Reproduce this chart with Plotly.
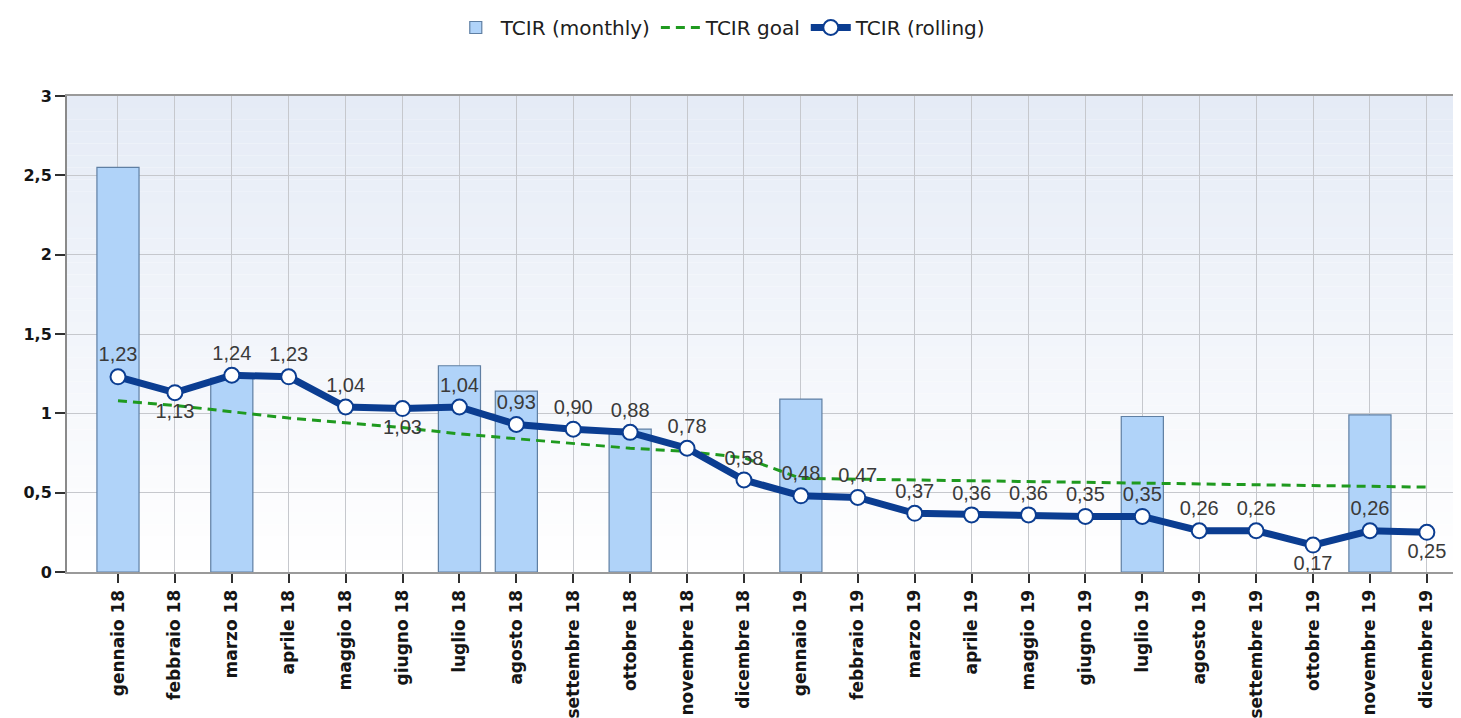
import plotly.graph_objects as go

months = ["gennaio 18", "febbraio 18", "marzo 18", "aprile 18", "maggio 18", "giugno 18",
          "luglio 18", "agosto 18", "settembre 18", "ottobre 18", "novembre 18", "dicembre 18",
          "gennaio 19", "febbraio 19", "marzo 19", "aprile 19", "maggio 19", "giugno 19",
          "luglio 19", "agosto 19", "settembre 19", "ottobre 19", "novembre 19", "dicembre 19"]

tcir_monthly = [2.55, None, 1.22, None, None, None, 1.30, 1.14, None, 0.90, None, None,
                1.09, None, None, None, None, None, 0.98, None, None, None, 0.99, None]

tcir_goal = [1.08, 1.05, 1.01, 0.97, 0.94, 0.91, 0.87, 0.84, 0.81, 0.78, 0.76, 0.72,
             0.59, 0.585, 0.58, 0.575, 0.57, 0.565, 0.56, 0.555, 0.55, 0.545, 0.54, 0.535]

tcir_rolling = [1.23, 1.13, 1.24, 1.23, 1.04, 1.03, 1.04, 0.93, 0.90, 0.88, 0.78, 0.58,
                0.48, 0.47, 0.37, 0.36, 0.36, 0.35, 0.35, 0.26, 0.26, 0.17, 0.26, 0.25]

label_pos = ["top center", "bottom center", "top center", "top center", "top center", "bottom center",
             "top center", "top center", "top center", "top center", "top center", "top center",
             "top center", "top center", "top center", "top center", "top center", "top center",
             "top center", "top center", "top center", "bottom center", "top center", "bottom center"]

y_ticks = [0, 0.5, 1, 1.5, 2, 2.5, 3]

fig = go.Figure()

fig.add_trace(go.Bar(
    x=months, y=tcir_monthly, name="TCIR (monthly)", width=0.74,
    marker=dict(color="#b0d3f9", line=dict(color="#5f7fa3", width=1.2)),
))

fig.add_trace(go.Scatter(
    x=months, y=tcir_goal, name="TCIR goal", mode="lines",
    line=dict(color="#1f9a1f", width=3, dash="9px,6px"),
))

fig.add_trace(go.Scatter(
    x=months, y=tcir_rolling, name="TCIR (rolling)", mode="lines+markers+text",
    line=dict(color="#0b3d91", width=7),
    marker=dict(symbol="circle", size=15, color="white", line=dict(color="#0b3d91", width=2)),
    texttemplate="%{y:.2f}", textposition=label_pos,
    textfont=dict(family="Liberation Sans, Arial, sans-serif", size=20, color="#3a3a3a"),
))

# vertical background gradient (light blue at top fading to white)
n = 40
top = (229, 235, 246)
bot = (255, 255, 255)
shapes = []
for i in range(n):
    t = i / (n - 1)
    c = tuple(round(top[k] + (bot[k] - top[k]) * t) for k in range(3))
    shapes.append(dict(type="rect", xref="x domain", yref="y domain",
                       x0=0, x1=1, y0=1 - (i + 1) / n, y1=1 - i / n,
                       fillcolor="rgb(%d,%d,%d)" % c, line=dict(width=0), layer="below"))

fig.update_layout(
    width=1453, height=710,
    margin=dict(l=59, r=0, t=88, b=146),
    paper_bgcolor="white", plot_bgcolor="rgba(0,0,0,0)",
    separators=",.",
    shapes=shapes,
    showlegend=True,
    legend=dict(orientation="h", x=0.469, xanchor="center", y=1.145, yanchor="middle",
                font=dict(family="DejaVu Sans, Verdana, sans-serif", size=20, color="#202020"),
                bgcolor="rgba(0,0,0,0)", itemwidth=40, traceorder="normal"),
    font=dict(family="DejaVu Sans, sans-serif", color="#202020"),
    bargap=0.2,
)

fig.update_xaxes(
    type="category", range=[-0.896, 23.6], tickangle=-90,
    tickfont=dict(family="DejaVu Sans, sans-serif", size=17, color="#151515", weight="bold"),
    showgrid=True, gridcolor="#c6c8cd", gridwidth=1,
    ticks="outside", ticklen=9, tickwidth=2, tickcolor="#303030",
    showline=True, linecolor="#9a9a9a", linewidth=2, mirror=True,
    zeroline=False,
)

fig.update_yaxes(
    range=[0, 3], tickvals=y_ticks,
    tickfont=dict(family="DejaVu Sans, sans-serif", size=16, color="#151515", weight="bold"),
    showgrid=True, gridcolor="#c6c8cd", gridwidth=1,
    ticks="outside", ticklen=10, tickwidth=2, tickcolor="#303030",
    showline=True, linecolor="#8a8a8a", linewidth=2,
    zeroline=False,
)

fig.write_html("out.html")
